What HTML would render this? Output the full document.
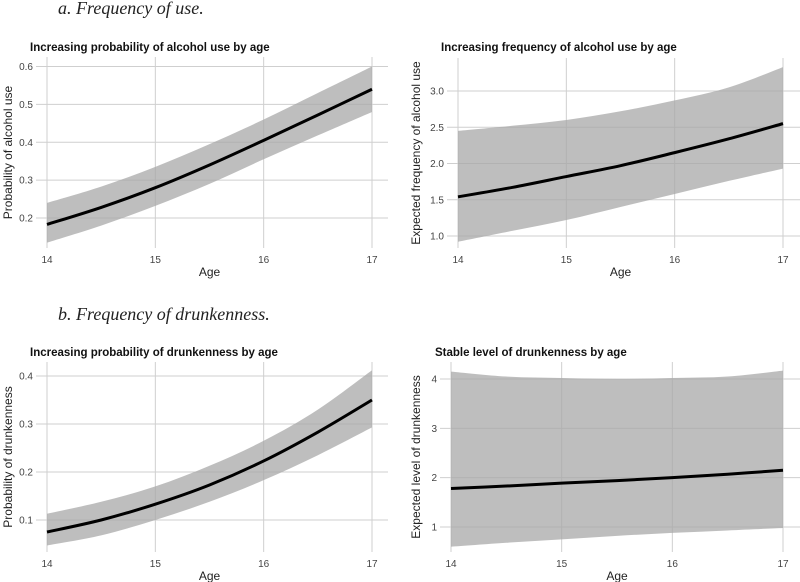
<!DOCTYPE html>
<html><head><meta charset="utf-8">
<style>
body{margin:0;background:#fff;width:800px;height:582px;overflow:hidden}
svg{display:block}
.h{font-family:"Liberation Serif",serif;font-style:italic;font-size:18px;fill:#222}
.t{font-family:"Liberation Sans",sans-serif;font-weight:bold;font-size:11.5px;fill:#111}
.tk{font-family:"Liberation Sans",sans-serif;font-size:10px;fill:#444}
.ax{font-family:"Liberation Sans",sans-serif;font-size:12px;fill:#222}
</style></head>
<body>
<svg id="chart" width="800" height="582">
<text class="h" x="58" y="14">a. Frequency of use.</text>
<text class="h" x="58" y="320">b. Frequency of drunkenness.</text>
</svg>
<script>
const ages=[14,14.5,15,15.5,16,16.5,17];
const xTicks=[14,15,16,17];
const p1Line=[0.183,0.228,0.28,0.34,0.405,0.472,0.54];
const p1Lo=[0.135,0.18,0.232,0.29,0.355,0.418,0.48];
const p1Hi=[0.24,0.283,0.335,0.395,0.46,0.53,0.60];
const p1Ticks=["0.2","0.3","0.4","0.5","0.6"];
const p2Line=[1.54,1.67,1.82,1.97,2.15,2.34,2.55];
const p2Lo=[0.92,1.07,1.22,1.40,1.58,1.76,1.93];
const p2Hi=[2.45,2.52,2.6,2.72,2.87,3.05,3.33];
const p2Ticks=["1.0","1.5","2.0","2.5","3.0"];
const p3Line=[0.075,0.1,0.133,0.173,0.223,0.283,0.35];
const p3Lo=[0.047,0.068,0.1,0.138,0.183,0.235,0.293];
const p3Hi=[0.113,0.138,0.17,0.213,0.265,0.33,0.412];
const p3Ticks=["0.1","0.2","0.3","0.4"];
const p4Line=[1.78,1.83,1.89,1.94,2.0,2.07,2.15];
const p4Lo=[0.6,0.68,0.75,0.82,0.88,0.93,0.98];
const p4Hi=[4.15,4.05,4.02,4.0,4.02,4.05,4.17];
const p4Ticks=["1","2","3","4"];

const svg=document.getElementById('chart');
const NS='http://www.w3.org/2000/svg';
function mk(tag,attrs,parent){const e=document.createElementNS(NS,tag);for(const k in attrs)e.setAttribute(k,attrs[k]);(parent||svg).appendChild(e);return e;}
function smooth(pts,start){
  let d=(start?'M':'L')+pts[0][0]+','+pts[0][1];
  for(let i=0;i<pts.length-1;i++){
    const p0=pts[Math.max(0,i-1)],p1=pts[i],p2=pts[i+1],p3=pts[Math.min(pts.length-1,i+2)];
    const c1=[p1[0]+(p2[0]-p0[0])/6,p1[1]+(p2[1]-p0[1])/6];
    const c2=[p2[0]-(p3[0]-p1[0])/6,p2[1]-(p3[1]-p1[1])/6];
    d+='C'+c1+' '+c2+' '+p2;
  }
  return d;
}
function panel(cfg){
  const g=mk('g',{});
  
  
  const xs=v=>cfg.x0+(v-14)*(cfg.x1-cfg.x0)/3;
  const ys=v=>cfg.yA+(v-cfg.vA)*(cfg.yB-cfg.yA)/(cfg.vB-cfg.vA);
  cfg.ticks.forEach(t=>{
    const y=ys(parseFloat(t));
    const l=mk('line',{x1:cfg.gl,x2:cfg.gr,y1:y,y2:y,stroke:'#cfcfcf','stroke-width':1},g);
    
    
    const tx=mk('text',{x:cfg.gl-3,y:y+3.5,'text-anchor':'end',class:'tk'},g);
    tx.textContent=t;
    
    
  });
  xTicks.forEach(t=>{
    const x=xs(t);
    const l=mk('line',{x1:x,x2:x,y1:cfg.gt,y2:cfg.gb,stroke:'#cfcfcf','stroke-width':1},g);
    
    
    const tx=mk('text',{x:x,y:cfg.gb+15,'text-anchor':'middle',class:'tk'},g);
    tx.textContent=t;
    
    
  });
  const hiPts=ages.map((a,i)=>[xs(a),ys(cfg.hi[i])]);
  const loPts=ages.map((a,i)=>[xs(a),ys(cfg.lo[i])]).reverse();
  const band=mk('path',{d:smooth(hiPts,true)+smooth(loPts,false)+'Z',fill:'#a8a8a8','fill-opacity':0.75},g);
  
  
  const lnPts=ages.map((a,i)=>[xs(a),ys(cfg.line[i])]);
  const line=mk('path',{d:smooth(lnPts,true),fill:'none',stroke:'#000','stroke-width':3,'stroke-linejoin':'round'},g);
  
  
  const title=mk('text',{x:cfg.tx,y:cfg.ty,class:'t'},g);
  title.textContent=cfg.title;
  
  
  const xt=mk('text',{x:(cfg.x0+cfg.x1)/2,y:cfg.gb+28,'text-anchor':'middle',class:'ax'},g);
  xt.textContent='Age';
  
  
  const cy=(cfg.gt+cfg.gb)/2;
  const yt=mk('text',{x:cfg.ytx,y:cy,'text-anchor':'middle',class:'ax',transform:`rotate(-90 ${cfg.ytx} ${cy})`},g);
  yt.textContent=cfg.ylab;
  
  
}
panel({name:'panel-alcohol-probability',x0:47,x1:372,gl:36,gr:388,gt:57,gb:248,vA:0.2,yA:218,vB:0.6,yB:66.5,ticks:p1Ticks,line:p1Line,lo:p1Lo,hi:p1Hi,title:'Increasing probability of alcohol use by age',tx:30,ty:51,ylab:'Probability of alcohol use',ytx:12});
panel({name:'panel-alcohol-frequency',x0:458,x1:783,gl:447,gr:800,gt:58,gb:248,vA:1.0,yA:236,vB:3.0,yB:91,ticks:p2Ticks,line:p2Line,lo:p2Lo,hi:p2Hi,title:'Increasing frequency of alcohol use by age',tx:441,ty:51,ylab:'Expected frequency of alcohol use',ytx:420});
panel({name:'panel-drunkenness-probability',x0:47,x1:372,gl:36,gr:388,gt:362,gb:552,vA:0.1,yA:520,vB:0.4,yB:376,ticks:p3Ticks,line:p3Line,lo:p3Lo,hi:p3Hi,title:'Increasing probability of drunkenness by age',tx:30,ty:356,ylab:'Probability of drunkenness',ytx:12});
panel({name:'panel-drunkenness-level',x0:451,x1:783,gl:440,gr:800,gt:362,gb:552,vA:1,yA:527,vB:4,yB:379,ticks:p4Ticks,line:p4Line,lo:p4Lo,hi:p4Hi,title:'Stable level of drunkenness by age',tx:435,ty:356,ylab:'Expected level of drunkenness',ytx:420});
</script>
</body></html>
